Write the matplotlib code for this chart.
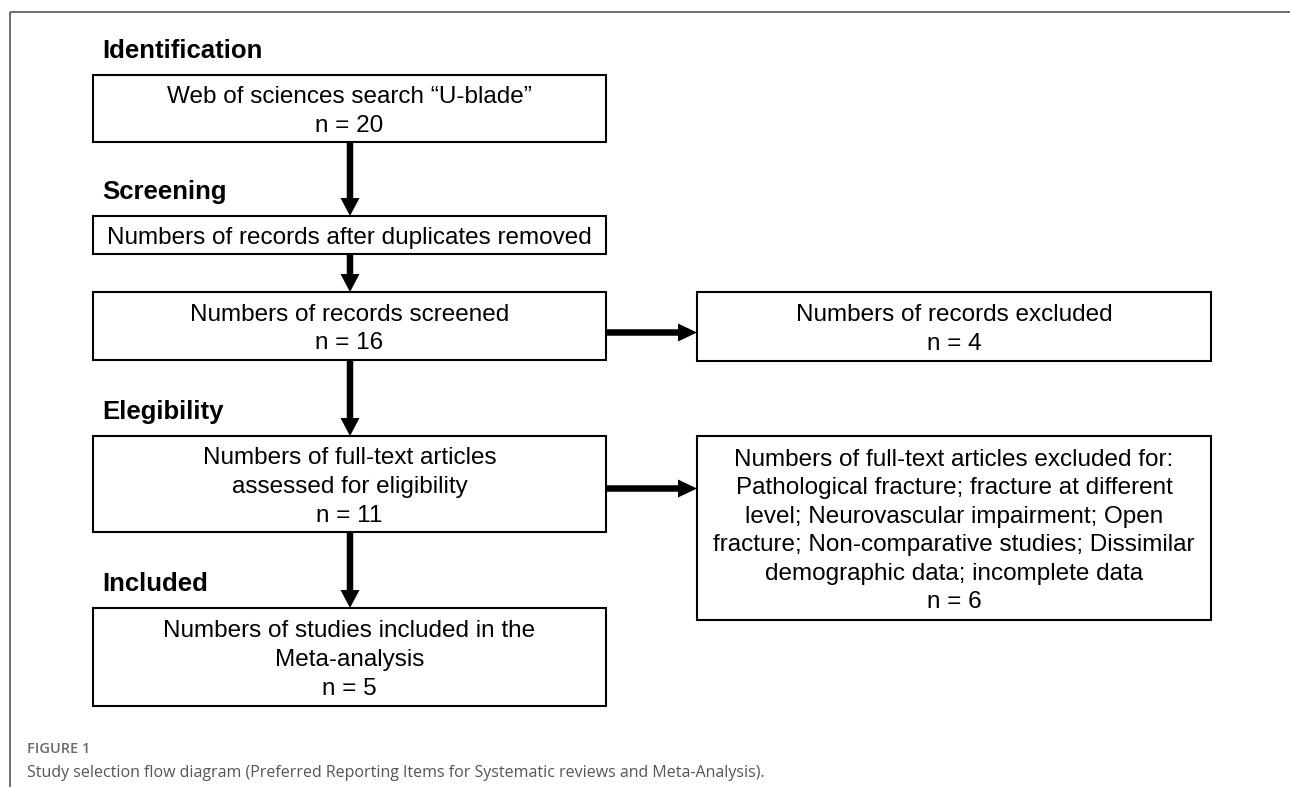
import matplotlib
matplotlib.use("Agg")
import matplotlib.pyplot as plt
from matplotlib.patches import Rectangle, FancyArrow

# ---- content ----
stage_labels = ["Identification", "Screening", "Elegibility", "Included"]
main_box_texts = [
    ["Web of sciences search \u201cU-blade\u201d"],
    ["Numbers of records after duplicates removed"],
    ["Numbers of records screened"],
    ["Numbers of full-text articles", "assessed for eligibility"],
    ["Numbers of studies included in the", "Meta-analysis"],
]
main_box_counts = [20, None, 16, 11, 5]
side_box_texts = [
    ["Numbers of records excluded"],
    ["Numbers of full-text articles excluded for:",
     "Pathological fracture; fracture at different",
     "level; Neurovascular impairment; Open",
     "fracture; Non-comparative studies; Dissimilar",
     "demographic data; incomplete data"],
]
side_box_counts = [4, 6]
caption_title = "FIGURE 1"
caption_text = ("Study selection flow diagram (Preferred Reporting Items for "
                "Systematic reviews and Meta-Analysis).")

# ---- layout (pixel coordinates, y downward) ----
W, H = 1290, 787
fig = plt.figure(figsize=(W / 100, H / 100), dpi=100)
ax = fig.add_axes([0, 0, 1, 1])
ax.set_xlim(0, W)
ax.set_ylim(H, 0)
ax.axis("off")

main_x0, main_x1 = 93, 606
side_x0, side_x1 = 697, 1211
main_y = [(75, 142), (216, 254), (292, 360), (436, 532), (608, 706)]
side_y = [(292, 361), (436, 620)]
side_from = [2, 3]          # main box index feeding each side box
side_arrow_y = [332.5, 488.5]
label_for_box = {0: 0, 1: 1, 3: 2, 4: 3}

FS = 17.5
LG = 28.6
CAP = 18.0
body_font = "Liberation Sans"


def draw_box(x0, x1, y0, y1, lines):
    ax.add_patch(Rectangle((x0, y0), x1 - x0, y1 - y0, fill=False,
                           edgecolor="black", linewidth=1.5, zorder=3))
    n = len(lines)
    cy = (y0 + y1) / 2
    b1 = cy - ((n - 1) * LG - CAP) / 2
    for i, line in enumerate(lines):
        ax.text((x0 + x1) / 2, b1 + i * LG, line, ha="center", va="baseline",
                fontsize=FS, family=body_font, color="black", zorder=4)


def with_count(lines, n):
    return lines + ([f"n = {n}"] if n is not None else [])


# main column boxes
for i, (lines, n) in enumerate(zip(main_box_texts, main_box_counts)):
    y0, y1 = main_y[i]
    draw_box(main_x0, main_x1, y0, y1, with_count(lines, n))

# side boxes
for j, (lines, n) in enumerate(zip(side_box_texts, side_box_counts)):
    y0, y1 = side_y[j]
    draw_box(side_x0, side_x1, y0, y1, with_count(lines, n))

# stage labels
for bi, li in label_for_box.items():
    ax.text(102, main_y[bi][0] - 17, stage_labels[li], ha="left",
            va="baseline", fontsize=18.5, fontweight="bold",
            family=body_font, color="black")

# vertical arrows
cx = (main_x0 + main_x1) / 2 + 0.5
for i in range(len(main_y) - 1):
    ys = main_y[i][1]
    ye = main_y[i + 1][0]
    ax.add_patch(FancyArrow(cx, ys, 0, ye - ys, width=6.5, head_width=19,
                            head_length=18, length_includes_head=True,
                            color="black", linewidth=0, zorder=2))

# horizontal arrows
for j, mi in enumerate(side_from):
    y = side_arrow_y[j]
    ax.add_patch(FancyArrow(main_x1, y, side_x0 - main_x1, 0, width=6.5,
                            head_width=18, head_length=19,
                            length_includes_head=True, color="black",
                            linewidth=0, zorder=2))

# frame lines
ax.plot([9.5, W], [12, 12], color="#555555", linewidth=1.2, solid_capstyle="butt")
ax.plot([9.5, 9.5], [12, H], color="#555555", linewidth=1.2, solid_capstyle="butt")

# caption
ax.text(27, 753, caption_title, ha="left", va="baseline", fontsize=10.5,
        fontweight="semibold", family="Open Sans", color="#6b6b6b")
ax.text(27, 777, caption_text, ha="left", va="baseline", fontsize=11.5,
        family="Open Sans", color="#555555")

fig.savefig("out.png", dpi=100)
